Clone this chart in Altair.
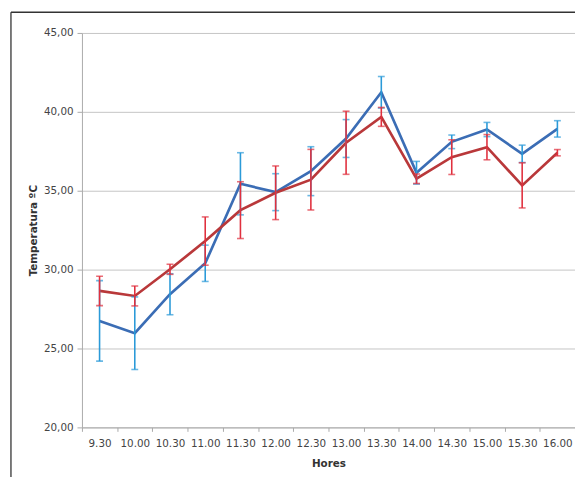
import altair as alt
import pandas as pd

hours = ["9.30", "10.00", "10.30", "11.00", "11.30", "12.00", "12.30",
         "13.00", "13.30", "14.00", "14.30", "15.00", "15.30", "16.00"]

blue_mean = [26.75, 25.97, 28.44, 30.40, 35.44, 34.91, 36.24,
             38.31, 41.24, 36.14, 38.10, 38.88, 37.34, 38.92]
blue_err = [2.55, 2.30, 1.30, 1.15, 1.97, 1.17, 1.55,
            1.20, 1.00, 0.72, 0.43, 0.45, 0.55, 0.52]

red_mean = [28.65, 28.33, 30.02, 31.81, 33.77, 34.87, 35.70,
            38.04, 39.68, 35.76, 37.13, 37.76, 35.34, 37.41]
red_err = [0.93, 0.63, 0.32, 1.53, 1.80, 1.70, 1.92,
           2.00, 0.60, 0.30, 1.10, 0.80, 1.43, 0.20]

y_ticks = [20, 25, 30, 35, 40, 45]


def frame(means, errs):
    return pd.DataFrame({
        "hora": hours,
        "mean": means,
        "lo": [m - e for m, e in zip(means, errs)],
        "hi": [m + e for m, e in zip(means, errs)],
    })


blue = frame(blue_mean, blue_err)
red = frame(red_mean, red_err)

FONT = "DejaVu Sans"

x_enc = alt.X(
    "hora:N", sort=hours,
    scale=alt.Scale(type="band", paddingInner=0, paddingOuter=0),
    axis=alt.Axis(
        title="Hores", tickBand="extent", labelAngle=0, labelFont=FONT,
        labelFontSize=10.5, labelColor="#444444", labelPadding=7,
        titleFont=FONT, titleFontSize=10.5, titleFontWeight="bold",
        titleColor="#333333", titlePadding=10, domainColor="#aaaaaa",
        tickColor="#aaaaaa", tickSize=4, grid=False,
    ),
)

y_scale = alt.Scale(domain=[20, 45], nice=False, zero=False)
y_axis = alt.Axis(
    title="Temperatura ºC", values=y_ticks,
    labelExpr="replace(format(datum.value, '.2f'), '.', ',')",
    labelFont=FONT, labelFontSize=10.5, labelColor="#444444", labelPadding=4,
    titleFont=FONT, titleFontSize=10.5, titleFontWeight="bold",
    titleColor="#333333", titlePadding=5, domainColor="#aaaaaa",
    tickColor="#aaaaaa", tickSize=5, grid=True, gridColor="#c4c4c4",
    gridWidth=1,
)


def line(df, color):
    return alt.Chart(df).mark_line(color=color, strokeWidth=2.7).encode(
        x=x_enc, y=alt.Y("mean:Q", scale=y_scale, axis=y_axis)
    )


def errs(df, color):
    bar = alt.Chart(df).mark_rule(color=color, strokeWidth=1.6).encode(
        x=x_enc, y=alt.Y("lo:Q", scale=y_scale, axis=y_axis), y2="hi:Q"
    )
    cap_lo = alt.Chart(df).mark_tick(color=color, thickness=1.6, size=7,
                                     orient="horizontal").encode(
        x=x_enc, y=alt.Y("lo:Q", scale=y_scale, axis=y_axis)
    )
    cap_hi = alt.Chart(df).mark_tick(color=color, thickness=1.6, size=7,
                                     orient="horizontal").encode(
        x=x_enc, y=alt.Y("hi:Q", scale=y_scale, axis=y_axis)
    )
    return bar + cap_lo + cap_hi


one = pd.DataFrame({"a": [0]})
frame_left = alt.Chart(one).mark_rule(color="#333333", strokeWidth=1.3).encode(
    x=alt.value(-72), y=alt.value(-21), y2=alt.value(460)
)
frame_top = alt.Chart(one).mark_rule(color="#333333", strokeWidth=1.3).encode(
    x=alt.value(-72), x2=alt.value(520), y=alt.value(-21)
)

chart = alt.layer(
    frame_left, frame_top,
    line(blue, "#3b6db5"),
    line(red, "#b9383a"),
    errs(blue, "#2b9ad8"),
    errs(red, "#e0303e"),
).properties(
    width=500, height=400,
    autosize=alt.AutoSizeParams(type="none"),
    padding={"left": 75, "top": 22, "right": 0, "bottom": 47},
    background="white",
).configure_view(stroke=None)

chart.save("out.html", embed_options={"renderer": "svg", "actions": False})
